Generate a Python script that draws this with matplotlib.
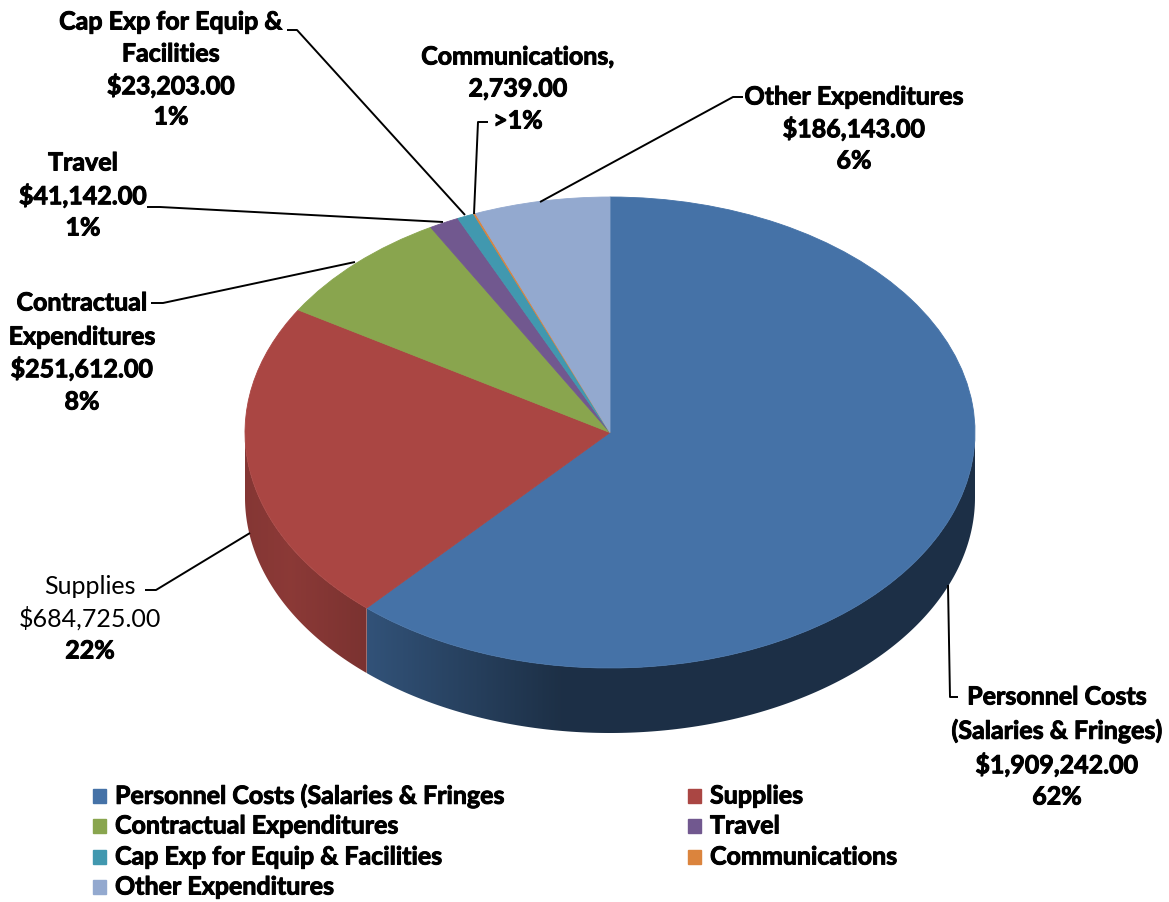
import numpy as np
import matplotlib
matplotlib.use("Agg")
import matplotlib.pyplot as plt
from matplotlib.patches import Rectangle, Polygon
import matplotlib.colors as mcolors
import matplotlib.patheffects as pe

# ---------------- data ----------------
categories = ["Personnel Costs (Salaries & Fringes", "Supplies", "Contractual Expenditures",
              "Travel", "Cap Exp for Equip & Facilities", "Communications", "Other Expenditures"]
values = [1909242.00, 684725.00, 251612.00, 41142.00, 23203.00, 2739.00, 186143.00]
pct_labels = ["62%", "22%", "8%", "1%", "1%", ">1%", "6%"]
colors = ["#4572A7", "#AA4643", "#89A54E", "#71588F", "#4198AF", "#DB843D", "#93A9CF"]

label_lines = [
    ["Personnel Costs", "(Salaries & Fringes)", "$1,909,242.00", "62%"],
    ["Supplies", "$684,725.00", "22%"],
    ["Contractual", "Expenditures", "$251,612.00", "8%"],
    ["Travel", "$41,142.00", "1%"],
    ["Cap Exp for Equip &", "Facilities", "$23,203.00", "1%"],
    ["Communications,", "2,739.00", ">1%"],
    ["Other Expenditures", "$186,143.00", "6%"],
]

W, H = 1169, 902
FONT = ["Lato", "DejaVu Sans"]
plt.rcParams['font.family'] = FONT

fig = plt.figure(figsize=(W / 100, H / 100), dpi=100)

# pie geometry (pixels)
cx, cy, rx, ry, depth = 610, 432.5, 365, 235.5, 65
d = depth / ry
ax = fig.add_axes([(cx - rx) / W, (H - (cy + ry + depth)) / H, 2 * rx / W, (2 * ry + depth) / H])
wedges, _ = ax.pie(values, colors=colors, startangle=90, counterclock=False, radius=1,
                   wedgeprops=dict(linewidth=0.6))
for w, c in zip(wedges, colors):
    w.set_edgecolor(c)
    w.set_zorder(2)


def side_factor(xpix):
    return np.interp(xpix, [245, 290, 367, 560, 975], [0.78, 0.82, 0.72, 0.42, 0.42])


# side walls derived from wedge angles, with horizontal gradient
for w, c in zip(wedges, colors):
    t1, t2 = sorted((w.theta1, w.theta2))
    base = np.array(mcolors.to_rgb(c))
    for k in (-1, 0, 1):
        lo = max(t1, 180 + 360 * k)
        hi = min(t2, 360 + 360 * k)
        if hi <= lo:
            continue
        th = np.radians(np.linspace(lo, hi, 200))
        xs = np.concatenate([np.cos(th), np.cos(th[::-1])])
        ys = np.concatenate([np.sin(th), np.sin(th[::-1]) - d])
        poly = Polygon(np.column_stack([xs, ys]), closed=True, facecolor='none',
                       edgecolor='none', transform=ax.transData)
        ax.add_patch(poly)
        x0, x1 = xs.min(), xs.max()
        gx = np.linspace(x0, x1, 300)
        fac = side_factor(cx + rx * gx)
        img = np.clip(base[None, :] * fac[:, None], 0, 1)[None, :, :]
        im = ax.imshow(img, extent=[x0, x1, -1 - d, 0.05], aspect='auto', zorder=1,
                       interpolation='bilinear')
        im.set_clip_path(poly)

ax.set_aspect('auto')
ax.set_xlim(-1, 1)
ax.set_ylim(-1 - d, 1)
ax.axis('off')

# overlay for labels / leaders / legend (pixel coordinates)
ov = fig.add_axes([0, 0, 1, 1], zorder=5)
ov.set_xlim(0, W)
ov.set_ylim(H, 0)
ov.axis('off')
ov.patch.set_alpha(0)

FS = 18
thick = [pe.withStroke(linewidth=0.7, foreground='black')]
label_pos = [
    (1057, [697, 731, 765, 797]),
    (90, [586, 618, 651]),
    (82, [303, 337, 369, 402]),
    (83, [163, 196, 228]),
    (171, [22, 54, 86, 117]),
    (518, [57, 89, 121]),
    (854, [97, 129, 161]),
]
for i, (lines, (x, ys)) in enumerate(zip(label_lines, label_pos)):
    for j, (t, y) in enumerate(zip(lines, ys)):
        bold = not (i == 1 and j < 2)
        ov.text(x, y, t, ha='center', va='center', fontsize=FS,
                fontweight='bold' if bold else 'normal', color='black',
                path_effects=thick if bold else None)

# leader lines
leaders = [
    [(948, 585), (950, 697), (958, 697)],
    [(145, 590), (156, 590), (250, 533)],
    [(151, 303), (163, 303), (355, 262)],
    [(147, 207), (160, 207), (443, 222)],
    [(287, 30), (297, 30), (465, 215)],
    [(488, 122), (478, 122), (474, 214)],
    [(743, 97), (733, 97), (540, 202)],
]
for pts in leaders:
    xs, ys = zip(*pts)
    ov.plot(xs, ys, color='black', lw=1.4, solid_capstyle='butt')

# legend (row-wise, 2 columns)
leg_x = [93, 688]
leg_y = [796, 826, 857, 887]
for i, (cat, c) in enumerate(zip(categories, colors)):
    r, col = divmod(i, 2)
    x, y = leg_x[col], leg_y[r]
    ov.add_patch(Rectangle((x, y - 7), 13, 14, color=c))
    ov.text(x + 22, y, cat, ha='left', va='center', fontsize=FS, fontweight='bold',
            path_effects=thick)

fig.savefig("out.png", dpi=100)
